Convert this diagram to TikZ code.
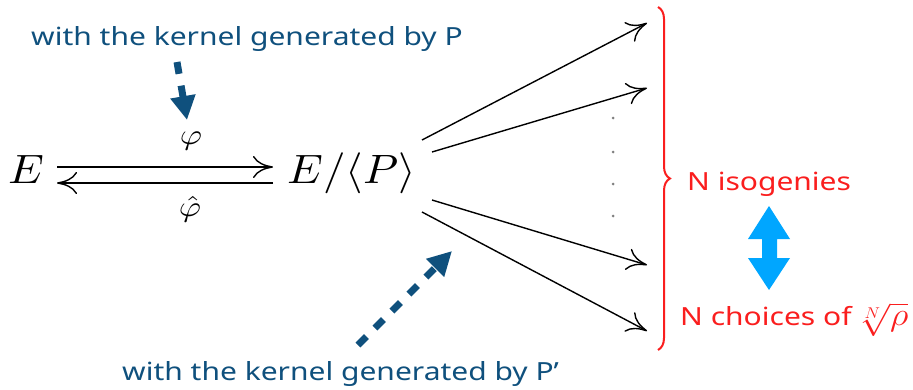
\documentclass[tikz,border=0pt]{standalone}
\usepackage{fontspec}
\usepackage{graphicx}
\newfontfamily\lblfont[FakeStretch=1.2]{Noto Sans}
\usetikzlibrary{arrows.meta,decorations.pathreplacing}
\definecolor{kblue}{RGB}{15,80,125}
\definecolor{kred}{RGB}{250,30,30}
\definecolor{kcyan}{RGB}{0,166,255}
\begin{document}
\begin{tikzpicture}[x=1pt,y=-1pt,
  lbl/.style={font=\lblfont\fontsize{25}{30}\selectfont, inner sep=0pt},
  iso/.style={line width=1.4pt,-{Computer Modern Rightarrow[length=20pt,width=22pt]}},
  kdash/.style={kblue, line width=7pt, dash pattern=on 12pt off 12pt, -{Triangle[length=24pt,width=24pt]}},
  gdot/.style={circle, fill=gray, inner sep=0pt, minimum size=3pt}]
\useasboundingbox (0,0) rectangle (913,389);

% texts
\node[lbl, kblue, anchor=base west] (topt) at (31,45) {with the kernel generated by P};
\node[lbl, kblue, anchor=base west] (bott) at (122,380) {with the kernel generated by P’};

% main objects
\node[inner sep=0pt, anchor=base west] (E) at (8,183) {\scalebox{4.5}[4.1]{$E$}};
\node[inner sep=0pt, anchor=base west] (EP) at (287,183) {\scalebox{4.5}[4.1]{$E/\langle P\rangle$}};
\node[inner sep=0pt] (phi) at (191,141) {\scalebox{3.4}[2.9]{$\varphi$}};
\node[inner sep=0pt] (phihat) at (190,209) {\scalebox{3.4}[2.9]{$\hat{\varphi}$}};

\coordinate (aL1) at (57,167);
\coordinate (aR1) at (273,167);
\coordinate (aL2) at (57,183);
\coordinate (aR2) at (273,183);
\draw[iso] (aL1) -- (aR1);
\draw[iso] (aR2) -- (aL2);

% fan
\coordinate (s1) at (422,140); \coordinate (t1) at (647,23);
\coordinate (s2) at (432,152); \coordinate (t2) at (647,88);
\coordinate (s3) at (432,200); \coordinate (t3) at (647,265);
\coordinate (s4) at (422,212); \coordinate (t4) at (647,331);
\draw[iso] (s1) -- (t1);
\draw[iso] (s2) -- (t2);
\draw[iso] (s3) -- (t3);
\draw[iso] (s4) -- (t4);

\node[gdot] (d1) at (613,118) {};
\node[gdot] (d2) at (613,152) {};
\node[gdot] (d3) at (613,184) {};
\node[gdot] (d4) at (613,216) {};

% brace
\coordinate (bt) at (658,7);
\coordinate (bb) at (658,350);
\draw[kred, line width=2pt, decorate, decoration={brace, amplitude=12pt}] (bt) -- (bb);

\node[lbl, kred, anchor=base west] (iso) at (687,190) {N isogenies};
\node[lbl, kred, anchor=base west] (cho) at (680,325) {N choices of\hspace{3pt}\scalebox{1.45}[1.3]{$\sqrt[N]{\rho}$}};

% double arrow
\fill[kcyan] (769,206) -- (790,239) -- (777,239) -- (777,258) -- (790,258) -- (769,290)
  -- (748,258) -- (762,258) -- (762,239) -- (748,239) -- cycle;

% dashed pointers
\coordinate (p1a) at (177,62);
\coordinate (p1b) at (187,120);
\coordinate (p2a) at (358,345);
\coordinate (p2b) at (452,251);
\draw[kdash] (p1a) -- (p1b);
\draw[kdash] (p2a) -- (p2b);
\end{tikzpicture}
\end{document}
